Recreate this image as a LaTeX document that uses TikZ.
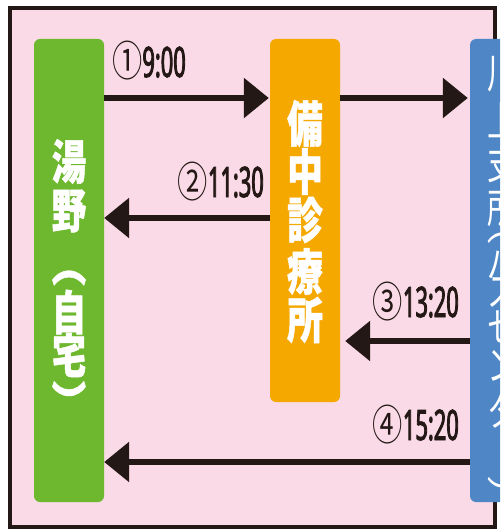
\documentclass[tikz,border=0pt]{standalone}
\usepackage{fontspec}
\usetikzlibrary{arrows.meta}
\newfontfamily\jpfont{Noto Sans CJK JP}[FakeStretch=0.73]
\newfontfamily\jpheavy{Noto Sans CJK JP}[FakeStretch=0.73, FakeBold=1]
\newfontfamily\circfont{Noto Sans CJK JP}[FakeStretch=0.72]
\newfontfamily\numfont{Noto Sans}[FakeStretch=0.52, FakeBold=2]
\definecolor{bgpink}{HTML}{F9DAE6}
\definecolor{boxgreen}{HTML}{6DB82E}
\definecolor{boxorange}{HTML}{F5A800}
\definecolor{boxblue}{HTML}{4F87C6}
\definecolor{inkc}{HTML}{231815}
\tikzset{
  box/.style={rounded corners=6pt, inner sep=0pt, draw=none, minimum width=70pt},
  bigtxt/.style={text=white, inner sep=0pt, font=\jpheavy\bfseries\fontsize{47}{47}\selectfont},
  clintxt/.style={text=white, inner sep=0pt, font=\jpheavy\bfseries\fontsize{49}{49}\selectfont},
  bustxt/.style={text=white, inner sep=0pt, font=\jpfont\fontsize{41}{41}\selectfont},
  arr/.style={draw=inkc, line width=6pt, -{Triangle[length=25pt,width=39pt]}},
  lbl/.style={text=inkc, inner sep=0pt},
}
\newcommand{\cnum}[1]{{\circfont\fontsize{42}{42}\selectfont #1}}
\newcommand{\tnum}[1]{{\numfont\bfseries\fontsize{42}{42}\selectfont #1}}
\begin{document}
\begin{tikzpicture}[x=1pt,y=-1pt]
\useasboundingbox (0,0) rectangle (500,529);
\begin{scope}
\clip (0,0) rectangle (500,529);
\fill[white] (0,0) rectangle (500,529);
\draw[inkc, line width=4pt, fill=bgpink] (10,8.5) rectangle (495,526.5);
% boxes
\node[box, fill=boxgreen, minimum height=463pt] (home) at (69,270.5) {};
\node[box, fill=boxorange, minimum height=363pt] (clinic) at (305,220.5) {};
\node[box, fill=boxblue, minimum height=463pt] (bus) at (505,270.5) {};
% home text
\node[bigtxt] (h1) at (69,161.5) {湯};
\node[bigtxt] (h2) at (69,211) {野};
\node[bigtxt] (h3) at (69,278) {︵};
\node[bigtxt] (h4) at (69,312) {自};
\node[bigtxt] (h5) at (69,355) {宅};
\node[bigtxt] (h6) at (69,401) {︶};
% clinic text
\node[clintxt] (c1) at (305,123.5) {備};
\node[clintxt] (c2) at (305,171.5) {中};
\node[clintxt] (c3) at (305,220) {診};
\node[clintxt] (c4) at (305,271.5) {療};
\node[clintxt] (c5) at (305,320) {所};
% bus text
\node[bustxt] (b1) at (502,74) {川};
\node[bustxt] (b2) at (502,120) {上};
\node[bustxt] (b3) at (502,164) {支};
\node[bustxt] (b4) at (502,208) {所};
\node[bustxt] (b5) at (502,238) {︵};
\node[bustxt] (b6) at (502,262) {バ};
\node[bustxt] (b7) at (502,293) {ス};
\node[bustxt] (b8) at (502,327) {セ};
\node[bustxt] (b9) at (502,366) {ン};
\node[bustxt] (b10) at (502,411) {タ};
\node[bustxt, rotate=-90] (b11) at (502,447) {ー};
\node[bustxt] (b12) at (502,494) {︶};
% arrows
\draw[arr, shorten >=1pt] (home.east |- 0,98) -- (clinic.west |- 0,98);
\draw[arr, shorten >=2pt] (clinic.east |- 0,98) -- (bus.west |- 0,98);
\draw[arr] (clinic.west |- 0,218) -- (home.east |- 0,218);
\draw[arr, shorten >=5pt] (bus.west |- 0,341) -- (clinic.east |- 0,341);
\draw[arr] (bus.west |- 0,462) -- (home.east |- 0,462);
% labels
\node[lbl, anchor=base west] (t1) at (112,77) {\cnum{①}\tnum{9:00}};
\node[lbl, anchor=base east] (t2) at (264,197) {\cnum{②}\tnum{11:30}};
\node[lbl, anchor=base east] (t3) at (459,317) {\cnum{③}\tnum{13:20}};
\node[lbl, anchor=base east] (t4) at (459,440) {\cnum{④}\tnum{15:20}};
\end{scope}
\end{tikzpicture}
\end{document}
